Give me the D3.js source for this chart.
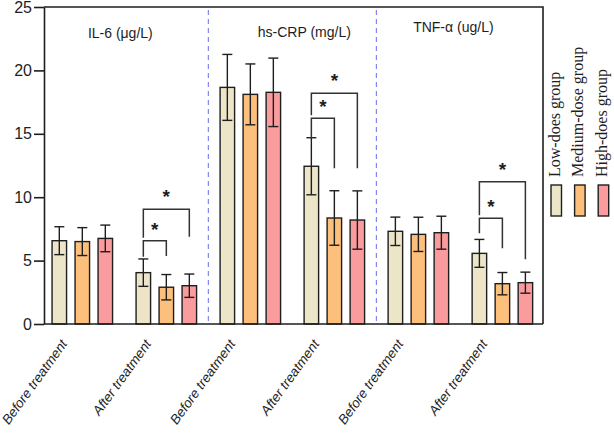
<!DOCTYPE html>
<html>
<head>
<meta charset="utf-8">
<script src="https://cdn.jsdelivr.net/npm/d3@7/dist/d3.min.js"></script>
<style>
  html, body { margin: 0; padding: 0; background: #fff; }
  svg { display: block; }
</style>
</head>
<body>
<svg id="chart" width="614" height="435"></svg>
<script>
// ---------- DATA ----------
const categories = ["Before treatment", "After treatment", "Before treatment", "After treatment", "Before treatment", "After treatment"];
const panels = ["IL-6 (μg/L)", "hs-CRP (mg/L)", "TNF-α (ug/L)"];
const seriesNames = ["Low-does group", "Medium-dose group", "High-does group"];
const lowDose    = [6.57, 4.05, 18.66, 12.44, 7.31, 5.57];
const mediumDose = [6.50, 2.90, 18.11, 8.36, 7.07, 3.18];
const highDose   = [6.75, 3.02, 18.27, 8.20, 7.20, 3.26];
const lowErr     = [1.10, 1.08, 2.60, 2.25, 1.12, 1.10];
const mediumErr  = [1.10, 1.00, 2.40, 2.15, 1.35, 0.88];
const highErr    = [1.05, 0.92, 2.70, 2.30, 1.30, 0.83];
const yTicks = [0, 5, 10, 15, 20, 25];
// significance brackets (After-treatment categories): heights in data units
const bracketCategory   = [1, 3, 5];
const bigBracketTop     = [9.05, 18.19, 11.22];
const smallBracketTop   = [6.57, 16.22, 8.34];
const smallLeftBottom   = [5.31, 14.65, 7.15];
const smallRightBottom  = [5.36, 12.28, 5.97];
const bigRightBottom    = [6.88, 12.28, 5.10];
const sigLabel = "*";

// ---------- STYLE ----------
const colors = ["#ECE5C8", "#FDBF7C", "#FA9C9D"];
const ink = "#1e1e1e";

const svg = d3.select("#chart");
const plot = { left: 44, right: 543, top: 7, bottom: 324 };

const y = d3.scaleLinear().domain([0, 25]).range([plot.bottom, plot.top]);
const x = d3.scaleBand().domain(d3.range(categories.length)).range([40.3, 544.4]).padding(0);
const inner = d3.scalePoint().domain(d3.range(seriesNames.length)).range([-23, 23]);
const barW = 14.5;
const cx = i => x(i) + x.bandwidth() / 2;

const values = [lowDose, mediumDose, highDose];
const errs = [lowErr, mediumErr, highErr];

// dashed dividers
[2, 4].forEach(i => {
  svg.append("line")
    .attr("x1", x(i)).attr("x2", x(i))
    .attr("y1", plot.top + 3).attr("y2", plot.bottom - 3)
    .attr("stroke", "#7a7ae8").attr("stroke-width", 1.1)
    .attr("stroke-dasharray", "5,4");
});

// bars
const barData = [];
categories.forEach((c, i) => {
  seriesNames.forEach((s, k) => {
    barData.push({ i, k, v: values[k][i], e: errs[k][i] });
  });
});

svg.append("g").selectAll("rect").data(barData).join("rect")
  .attr("x", d => cx(d.i) + inner(d.k) - barW / 2)
  .attr("y", d => y(d.v))
  .attr("width", barW)
  .attr("height", d => y(0) - y(d.v))
  .attr("fill", d => colors[d.k])
  .attr("stroke", ink).attr("stroke-width", 1.4);

// error bars
const eg = svg.append("g").attr("stroke", ink).attr("stroke-width", 1.4).attr("fill", "none");
barData.forEach(d => {
  const bx = cx(d.i) + inner(d.k);
  eg.append("line").attr("x1", bx).attr("x2", bx).attr("y1", y(d.v + d.e)).attr("y2", y(d.v - d.e));
  eg.append("line").attr("x1", bx - 5).attr("x2", bx + 5).attr("y1", y(d.v + d.e)).attr("y2", y(d.v + d.e));
  eg.append("line").attr("x1", bx - 5).attr("x2", bx + 5).attr("y1", y(d.v - d.e)).attr("y2", y(d.v - d.e));
});

// significance brackets
const bg = svg.append("g").attr("stroke", "#333").attr("stroke-width", 1.5).attr("fill", "none");
bracketCategory.forEach((ci, j) => {
  const xl = cx(ci) + inner(0), xm = cx(ci) + inner(1), xr = cx(ci) + inner(2);
  bg.append("path").attr("d",
    `M${xl},${y(smallLeftBottom[j])}V${y(smallBracketTop[j])}H${xm}V${y(smallRightBottom[j])}`);
  bg.append("path").attr("d",
    `M${xl},${y(smallBracketTop[j]) - 3}V${y(bigBracketTop[j])}H${xr}V${y(bigRightBottom[j])}`);
  svg.append("text").attr("x", (xl + xm) / 2).attr("y", y(smallBracketTop[j]) - 15 + 10)
    .attr("text-anchor", "middle").attr("font-family", "Liberation Sans, Arial, sans-serif")
    .attr("font-weight", "bold").attr("font-size", 19).attr("fill", ink).text(sigLabel);
  svg.append("text").attr("x", (xl + xr) / 2).attr("y", y(bigBracketTop[j]) - 16 + 10)
    .attr("text-anchor", "middle").attr("font-family", "Liberation Sans, Arial, sans-serif")
    .attr("font-weight", "bold").attr("font-size", 19).attr("fill", ink).text(sigLabel);
});

// frame (top and right)
svg.append("path")
  .attr("d", `M${plot.left},${plot.top}H${plot.right}V${plot.bottom}`)
  .attr("fill", "none").attr("stroke", ink).attr("stroke-width", 1.6);

// y axis
const yAxis = svg.append("g").attr("transform", `translate(${plot.left},0)`)
  .call(d3.axisLeft(y).tickValues(yTicks).tickSize(10).tickPadding(2).tickSizeOuter(0));
yAxis.select(".domain").attr("stroke", ink).attr("stroke-width", 1.6);
yAxis.selectAll(".tick line").attr("stroke", ink).attr("stroke-width", 1.6);
yAxis.selectAll(".tick text")
  .attr("font-family", "'Liberation Sans Narrow', 'Liberation Sans', Arial, sans-serif")
  .attr("font-size", 16).attr("fill", ink);

// x axis
const xAxis = svg.append("g").attr("transform", `translate(0,${plot.bottom})`)
  .call(d3.axisBottom(x).tickSize(0).tickFormat(() => ""));
xAxis.select(".domain").attr("d", `M${plot.left},0H${plot.right}`)
  .attr("stroke", ink).attr("stroke-width", 1.6);

// x labels
svg.append("g").selectAll("text").data(categories).join("text")
  .attr("transform", (d, i) => `translate(${cx(i) - 14.5},${plot.bottom + 20}) rotate(-54)`)
  .attr("text-anchor", "end")
  .attr("font-family", "Liberation Sans, Arial, sans-serif")
  .attr("font-style", "italic").attr("font-size", 13.5).attr("fill", ink)
  .text(d => d);

// panel titles
const titleDx = [-4, 12, -7];
const titleY = [38.3, 36.7, 31.7];
panels.forEach((p, g) => {
  svg.append("text")
    .attr("x", x(2 * g) + x.bandwidth() + titleDx[g])
    .attr("y", titleY[g])
    .attr("text-anchor", "middle")
    .attr("font-family", "Liberation Sans, Arial, sans-serif")
    .attr("font-size", 14).attr("fill", ink).text(p);
});

// legend
const lg = svg.append("g");
seriesNames.forEach((s, k) => {
  const lx = 551 + k * 23.6;
  lg.append("rect").attr("x", lx).attr("y", 185).attr("width", 10.5).attr("height", 31)
    .attr("fill", colors[k]).attr("stroke", ink).attr("stroke-width", 1.4);
  lg.append("text")
    .attr("transform", `translate(${lx + 8.5},177) rotate(-90)`)
    .attr("text-anchor", "start")
    .attr("font-family", "'Liberation Serif', 'Times New Roman', serif")
    .attr("font-size", 16).attr("fill", ink).text(s);
});
</script>
</body>
</html>
